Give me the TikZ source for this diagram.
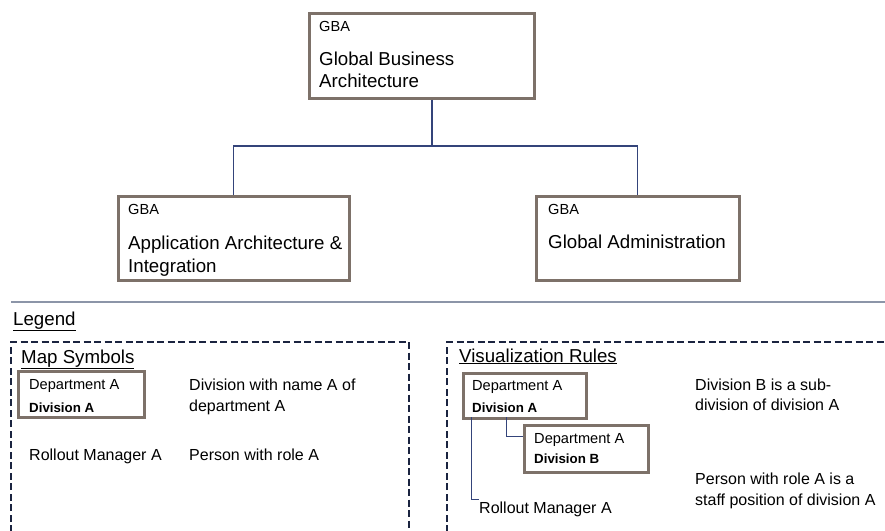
\documentclass[tikz,border=0pt]{standalone}
\usepackage{fontspec}
\setmainfont{Liberation Sans}
\begin{document}
\definecolor{boxline}{HTML}{7D7169}
\definecolor{connline}{HTML}{34447A}
\definecolor{sepline}{HTML}{8C95A8}
\definecolor{dashline}{HTML}{1B2440}
\newcommand{\fsBig}{\fontsize{18.7}{22}\selectfont}
\newcommand{\fsMid}{\fontsize{16}{19}\selectfont}
\newcommand{\fsSmall}{\fontsize{14.6}{17}\selectfont}
\newcommand{\fsBold}{\fontsize{13.3}{16}\selectfont\bfseries}
\begin{tikzpicture}[x=1pt, y=-1pt,
  orgbox/.style={draw=boxline, line width=2.5pt, fill=white, inner sep=0pt, anchor=north west},
  txt/.style={inner sep=0pt, anchor=base west},
  conn/.style={draw=connline, line width=1.3pt},
  legendbox/.style={draw=dashline, line width=2.5pt, dash pattern=on 7pt off 3.5pt}]
\useasboundingbox (0,0) rectangle (885,530);

% organisation chart
\node[orgbox, minimum width=225pt, minimum height=85pt] (top) at (308,12) {};
\node[orgbox, minimum width=231pt, minimum height=84pt] (appl) at (117,195) {};
\node[orgbox, minimum width=203pt, minimum height=84pt] (admin) at (535,195) {};

\node[txt, font=\fsSmall] (topgba) at (319,31) {GBA};
\node[txt, font=\fsBig] (toptitlea) at (319,65) {Global Business};
\node[txt, font=\fsBig] (toptitleb) at (319,87) {Architecture};

\node[txt, font=\fsSmall] (applgba) at (128,214) {GBA};
\node[txt, font=\fsBig] (appltitlea) at (128,249) {Application Architecture \&};
\node[txt, font=\fsBig] (appltitleb) at (128,272) {Integration};

\node[txt, font=\fsSmall] (admingba) at (548,214) {GBA};
\node[txt, font=\fsBig] (admintitle) at (548,248) {Global Administration};

\coordinate (junction) at (432,146);
\draw[conn] (top.south -| junction) -- (junction);
\draw[conn] (appl.north) |- (junction) -| (admin.north);

% separator and legend
\coordinate (sepstart) at (11,302);
\coordinate (sepend) at (885,302);
\draw[draw=sepline, line width=2pt] (sepstart) -- (sepend);
\node[txt, font=\fsBig] (legend) at (13,325) {\underline{Legend}};

% map symbols panel
\draw[legendbox] (11,532) -- (11,342) -- (409,342) -- (409,532);
\node[txt, font=\fsBig] (mapsym) at (21,363) {\underline{Map Symbols}};
\node[orgbox, minimum width=126pt, minimum height=46pt] (msbox) at (17,370) {};
\node[txt, font=\fsSmall] (msdept) at (29,389) {Department A};
\node[txt, font=\fsBold] (msdiv) at (29,412) {Division A};
\node[txt, font=\fsMid] (msdesca) at (189,390) {Division with name A of};
\node[txt, font=\fsMid] (msdescb) at (189,411) {department A};
\node[txt, font=\fsMid] (msrole) at (29,460) {Rollout Manager A};
\node[txt, font=\fsMid] (msroledesc) at (189,460) {Person with role A};

% visualization rules panel
\draw[legendbox] (447,532) -- (447,342) -- (890,342);
\node[txt, font=\fsBig] (visrules) at (459,362) {\underline{Visualization Rules}};
\node[orgbox, minimum width=123pt, minimum height=45pt] (vbA) at (462,372) {};
\node[txt, font=\fsSmall] (vbAdept) at (472,390) {Department A};
\node[txt, font=\fsBold] (vbAdiv) at (472,412) {Division A};
\node[orgbox, minimum width=124pt, minimum height=47pt] (vbB) at (523,424) {};
\node[txt, font=\fsSmall] (vbBdept) at (534,443) {Department A};
\node[txt, font=\fsBold] (vbBdiv) at (534,463) {Division B};
\node[txt, font=\fsMid] (vrole) at (479,513) {Rollout Manager A};

\coordinate (subdrop) at (506,417);
\coordinate (staffdrop) at (471,417);
\draw[conn, line width=1pt] (subdrop) |- (vbB.west |- 0,436);
\draw[conn, line width=1pt] (staffdrop) |- (vrole.west |- 0,499);

\node[txt, font=\fsMid] (vdesca) at (695,390) {Division B is a sub-};
\node[txt, font=\fsMid] (vdescb) at (695,410) {division of division A};
\node[txt, font=\fsMid] (vdescc) at (695,484) {Person with role A is a};
\node[txt, font=\fsMid] (vdescd) at (695,505) {staff position of division A};
\end{tikzpicture}
\end{document}
